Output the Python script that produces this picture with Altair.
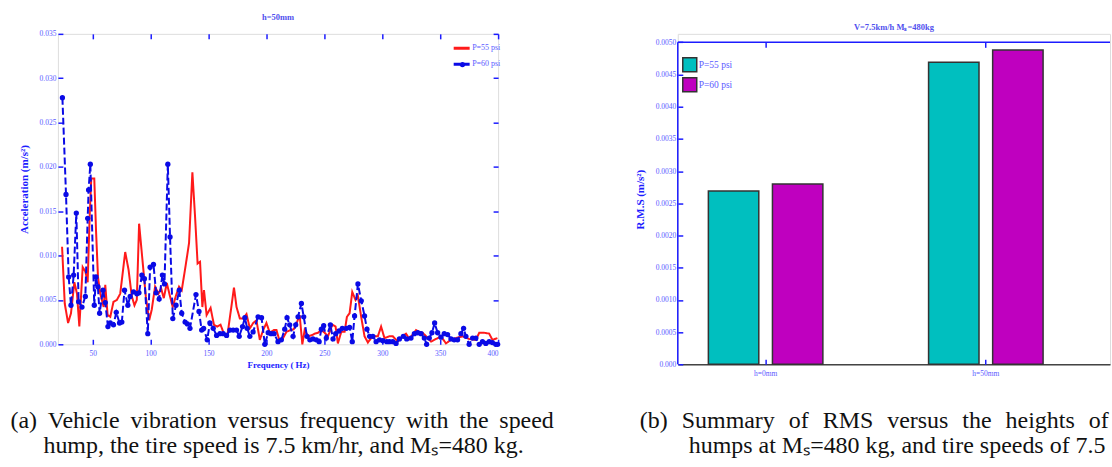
import altair as alt
import pandas as pd

# ---------------- data ----------------
series = ["P=55 psi", "P=60 psi"]

freq_55 = [23.6, 25.9, 28.8, 31.3, 34.2, 36.5, 38.5, 41.4, 43.7, 45.7, 47.4, 48.8, 51.4, 52.9, 54.6,
           56.6, 59.5, 60.9, 62.9, 65.2, 68.0, 70.9, 73.8, 78.1, 81.0, 83.8, 86.1, 88.1, 90.1, 93.0,
           95.9, 98.8, 101.0, 103.9, 106.8, 109.1, 111.4, 114.0, 116.8, 119.1, 121.7, 124.6, 126.9,
           130.3, 133.2, 136.1, 138.4, 140.6, 142.7, 144.7, 146.1, 148.4, 151.8, 154.7, 157.6, 160.4,
           163.3, 166.2, 169.5, 172.0, 174.2, 177.1, 179.9, 182.8, 185.7, 188.6, 191.4, 194.3, 197.2,
           200.0, 202.9, 206.4, 208.7, 211.5, 214.4, 217.3, 220.7, 223.6, 226.4, 228.7, 231.0, 233.0,
           235.9, 238.8, 241.6, 244.5, 247.4, 250.3, 253.1, 256.9, 259.7, 261.7, 264.6, 267.5, 269.5,
           271.8, 274.1, 276.9, 278.9, 281.8, 284.7, 287.6, 290.4, 293.3, 296.2, 299.0, 301.9, 306.2,
           309.1, 313.4, 317.7, 320.5, 323.4, 326.3, 329.2, 332.0, 334.9, 337.8, 342.1, 346.4, 350.7,
           355.0, 359.3, 363.6, 369.3, 375.0, 380.8, 383.7, 388.0, 392.3, 395.1, 399.4]
acc_55 = [0.0110, 0.0046, 0.0024, 0.0035, 0.0070, 0.0057, 0.0020, 0.0087, 0.0082, 0.0070, 0.0144,
          0.0187, 0.0187, 0.0129, 0.0076, 0.0057, 0.0042, 0.0067, 0.0033, 0.0031, 0.0048, 0.0050,
          0.0057, 0.0104, 0.0084, 0.0054, 0.0044, 0.0050, 0.0136, 0.0095, 0.0054, 0.0027, 0.0039,
          0.0065, 0.0057, 0.0063, 0.0052, 0.0069, 0.0054, 0.0042, 0.0054, 0.0065, 0.0061, 0.0089,
          0.0114, 0.0194, 0.0144, 0.0091, 0.0093, 0.0042, 0.0061, 0.0033, 0.0041, 0.0022, 0.0020,
          0.0022, 0.0012, 0.0009, 0.0040, 0.0064, 0.0042, 0.0029, 0.0029, 0.0034, 0.0018, 0.0024,
          0.0027, 0.0005, 0.0016, 0.0024, 0.0013, 0.0016, 0.0016, 0.0003, 0.0007, 0.0014, 0.0016,
          0.0017, 0.0025, 0.0033, 0.0000, 0.0016, 0.0009, 0.0010, 0.0012, 0.0013, 0.0016, 0.0013,
          0.0009, 0.0022, 0.0020, 0.0001, 0.0014, 0.0014, 0.0031, 0.0035, 0.0059, 0.0050, 0.0055,
          0.0031, 0.0009, 0.0002, 0.0007, 0.0009, 0.0009, 0.0020, 0.0007, 0.0009, 0.0009, 0.0003,
          0.0009, 0.0012, 0.0006, 0.0011, 0.0016, 0.0014, 0.0013, 0.0009, 0.0003, 0.0006, 0.0009,
          0.0001, 0.0005, 0.0007, 0.0009, 0.0006, 0.0005, 0.0013, 0.0013, 0.0012, 0.0005, 0.0007]

freq_60 = [23.9, 27.0, 29.3, 31.3, 33.6, 35.9, 37.9, 40.8, 43.7, 45.7, 46.5, 48.0, 51.4, 52.9, 54.5,
           56.0, 58.9, 60.9, 63.2, 65.2, 68.0, 70.4, 73.2, 75.2, 77.5, 80.4, 82.4, 85.3, 88.2, 90.0,
           92.5, 94.7, 97.6, 99.6, 102.5, 104.8, 107.4, 110.2, 112.0, 114.9, 116.8, 119.2, 122.0,
           124.8, 126.9, 129.8, 131.8, 134.0, 139.2, 141.8, 144.1, 145.8, 148.9, 151.2, 154.1, 157.0,
           159.9, 162.7, 165.6, 168.5, 171.3, 174.2, 176.5, 179.4, 181.4, 183.4, 185.7, 188.5, 192.8,
           195.8, 198.6, 201.5, 204.0, 206.6, 210.0, 212.9, 215.8, 217.8, 220.1, 223.0, 225.3, 227.3,
           230.2, 232.2, 235.0, 237.5, 240.2, 243.1, 245.5, 247.4, 249.4, 251.7, 255.2, 257.5, 259.8,
           262.7, 265.5, 269.0, 271.8, 274.1, 276.1, 279.0, 281.9, 284.7, 286.8, 289.1, 291.9, 294.7,
           297.6, 300.5, 303.9, 306.2, 309.1, 311.9, 314.8, 318.2, 321.1, 324.8, 327.7, 330.6, 333.5,
           336.3, 338.3, 340.6, 342.9, 345.2, 347.8, 350.7, 353.5, 356.4, 359.3, 362.1, 365.0, 367.9,
           370.2, 372.2, 375.0, 378.0, 380.8, 383.7, 386.5, 389.4, 392.3, 395.1, 398.0, 399.6]
acc_60 = [0.0278, 0.0169, 0.0076, 0.0044, 0.0078, 0.0148, 0.0048, 0.0042, 0.0054, 0.0142, 0.0174,
          0.0203, 0.0044, 0.0076, 0.0065, 0.0035, 0.0061, 0.0047, 0.0020, 0.0024, 0.0022, 0.0036,
          0.0024, 0.0025, 0.0061, 0.0044, 0.0054, 0.0059, 0.0057, 0.0058, 0.0078, 0.0074, 0.0012,
          0.0087, 0.0090, 0.0058, 0.0051, 0.0078, 0.0068, 0.0203, 0.0121, 0.0029, 0.0044, 0.0061,
          0.0035, 0.0025, 0.0023, 0.0018, 0.0056, 0.0037, 0.0016, 0.0018, 0.0005, 0.0024, 0.0018,
          0.0010, 0.0012, 0.0012, 0.0010, 0.0016, 0.0016, 0.0016, 0.0009, 0.0020, 0.0030, 0.0018,
          0.0009, 0.0014, 0.0031, 0.0030, 0.0000, 0.0013, 0.0012, 0.0012, 0.0003, 0.0005, 0.0017,
          0.0030, 0.0022, 0.0009, 0.0022, 0.0031, 0.0046, 0.0031, 0.0009, 0.0005, 0.0006, 0.0005,
          0.0003, 0.0017, 0.0021, 0.0007, 0.0022, 0.0006, 0.0012, 0.0015, 0.0018, 0.0018, 0.0019,
          0.0003, 0.0032, 0.0068, 0.0049, 0.0032, 0.0017, 0.0009, 0.0009, 0.0003, 0.0005, 0.0004,
          0.0003, 0.0003, 0.0003, 0.0001, 0.0006, 0.0009, 0.0006, 0.0007, 0.0012, 0.0013, 0.0012,
          0.0007, 0.0000, 0.0007, 0.0013, 0.0024, 0.0013, 0.0008, 0.0012, 0.0011, 0.0006, 0.0005,
          0.0005, 0.0012, 0.0018, 0.0009, 0.0000, 0.0007, 0.0007, 0.0000, 0.0003, 0.0001, 0.0003,
          0.0002, 0.0000, 0.0000]

heights = ["h=0mm", "h=50mm"]
rms_55 = [0.00269, 0.00469]
rms_60 = [0.00280, 0.00488]

freq_ticks = [50, 100, 150, 200, 250, 300, 350, 400]
acc_ticks = [0.0, 0.005, 0.010, 0.015, 0.020, 0.025, 0.030, 0.035]
rms_ticks = [0.0, 0.0005, 0.0010, 0.0015, 0.0020, 0.0025, 0.0030, 0.0035, 0.0040, 0.0045, 0.0050]

caption_a = ["(a) Vehicle vibration versus frequency with the speed",
             "hump, the tire speed is 7.5 km/hr, and M\u209b=480 kg."]
caption_b = ["(b) Summary of RMS versus the heights of",
             "humps at M\u209b=480 kg, and tire speeds of 7.5"]

# ---------------- styles ----------------
BLUE = "#1c1cff"
LBL = "#5b5bff"
SERIF = "Liberation Serif"
RED = "#ff1a1a"
SER_BLUE = "#0a0ae6"
CYAN = "#00bfbf"
MAGENTA = "#bf00bf"
CAP = 24

W1, H1 = 441, 311
W2, H2 = 433, 331
RMS_TOP = 0.005 * H2 / (H2 - 8.5)


def justify(text, extra):
    # widen inter-word gaps the way the justified caption does
    return text.replace(" ", " " + extra)


df_a = pd.concat([
    pd.DataFrame({"f": freq_55, "a": acc_55, "series": series[0]}),
    pd.DataFrame({"f": freq_60, "a": acc_60, "series": series[1]}),
], ignore_index=True)
df_pts = pd.DataFrame({"f": freq_60, "a": acc_60, "series": series[1]})

xs = alt.Scale(domain=[20, 400], nice=False, zero=False)
ys = alt.Scale(domain=[0, 0.035], nice=False)

leg_a = dict(orient="none", legendX=395, legendY=5, title=None, labelFont=SERIF,
             labelFontSize=8, labelColor=LBL, symbolType="stroke", symbolStrokeWidth=3,
             symbolSize=256, rowPadding=0, labelOffset=1)

lines = alt.Chart(df_a).mark_line(strokeWidth=2).encode(
    x=alt.X("f:Q", scale=xs, axis=alt.Axis(
        orient="bottom", values=freq_ticks, format="d", domain=False, ticks=False, tickSize=0,
        grid=False, labelFont=SERIF, labelFontSize=7.5, labelColor=LBL, labelPadding=5,
        title="Frequency ( Hz)", titleFont=SERIF, titleFontSize=9, titleFontWeight="bold",
        titleColor=BLUE, titlePadding=4)),
    y=alt.Y("a:Q", scale=ys, axis=alt.Axis(
        orient="left", values=acc_ticks, format=".3f", domain=False, ticks=False, tickSize=0,
        grid=False, labelFont=SERIF, labelFontSize=7.5, labelColor=LBL, labelPadding=2,
        title="Acceleration (m/s\u00b2)", titleFont=SERIF, titleFontSize=11, titleFontWeight="bold",
        titleColor=BLUE, titlePadding=10)),
    color=alt.Color("series:N", scale=alt.Scale(domain=series, range=[RED, SER_BLUE]),
                    legend=alt.Legend(**leg_a)),
    strokeDash=alt.StrokeDash("series:N", scale=alt.Scale(domain=series, range=[[1, 0], [7, 3]]),
                              legend=alt.Legend(**leg_a)),
)

pts = alt.Chart(df_pts).mark_point(size=28, opacity=1, filled=True, color=SER_BLUE).encode(
    x=alt.X("f:Q", scale=xs, axis=alt.Axis(orient="bottom", values=freq_ticks, offset=-5,
                                           tickSize=5, labels=False, domain=False, grid=False,
                                           title=None, tickColor=BLUE, tickWidth=1.5)),
    y=alt.Y("a:Q", scale=ys, axis=alt.Axis(orient="left", values=acc_ticks, offset=-5,
                                           tickSize=5, labels=False, domain=False, grid=False,
                                           title=None, tickColor=BLUE, tickWidth=1.5)),
    shape=alt.Shape("series:N", scale=alt.Scale(domain=[series[1]], range=["circle"]),
                    legend=alt.Legend(orient="none", legendX=402.3, legendY=27.8, title=None,
                                      labelExpr="''", labelFontSize=1, symbolSize=28,
                                      symbolFillColor=SER_BLUE, symbolStrokeColor=SER_BLUE,
                                      symbolStrokeWidth=0)),
)

mirror = alt.Chart(df_pts).mark_point(opacity=0).encode(
    x=alt.X("f:Q", scale=xs, axis=alt.Axis(orient="top", values=freq_ticks, offset=-5,
                                           tickSize=5, labels=False, domain=False, grid=False,
                                           title=None, tickColor=BLUE, tickWidth=1.5)),
    y=alt.Y("a:Q", scale=ys, axis=alt.Axis(orient="right", values=acc_ticks, offset=-5,
                                           tickSize=5, labels=False, domain=False, grid=False,
                                           title=None, tickColor=BLUE, tickWidth=1.5)),
)

cap_a1 = alt.Chart(pd.DataFrame({"t": [justify(caption_a[0], "\u2009")]})).mark_text(
    font=SERIF, fontSize=CAP, color="#111", align="left", baseline="alphabetic").encode(
    text="t:N", x=alt.value(-47.5), y=alt.value(394.5))
cap_a2 = alt.Chart(pd.DataFrame({"t": [caption_a[1]]})).mark_text(
    font=SERIF, fontSize=CAP, color="#111", align="left", baseline="alphabetic").encode(
    text="t:N", x=alt.value(-14.5), y=alt.value(419.5))

left = alt.layer(lines, pts, mirror, cap_a1, cap_a2).resolve_axis(
    x="independent", y="independent").properties(
    width=W1, height=H1,
    title=alt.TitleParams("h=50mm", font=SERIF, fontSize=8.5, fontWeight="bold", color="#5050ee",
                          offset=8, anchor="middle"))

# ---------------- right panel ----------------
df_b = pd.DataFrame({
    "height": heights * 2,
    "series": [series[0]] * 2 + [series[1]] * 2,
    "rms": rms_55 + rms_60,
})

xb = alt.Scale(domain=heights, paddingInner=0.48, paddingOuter=0.2214, align=0.3137)
yb = alt.Scale(domain=[0, RMS_TOP], nice=False)

bars = alt.Chart(df_b).mark_bar(stroke="#333333", strokeWidth=1.5).encode(
    x=alt.X("height:N", scale=xb, sort=heights, axis=alt.Axis(
        orient="bottom", domain=True, domainColor="#444444", domainWidth=1.5, ticks=False,
        tickSize=0, labelAngle=0, labelFont=SERIF, labelFontSize=7.5, labelColor=LBL,
        labelPadding=5, title=None, grid=False)),
    xOffset=alt.XOffset("series:N", scale=alt.Scale(domain=series, paddingInner=0.213,
                                                     paddingOuter=0)),
    y=alt.Y("rms:Q", scale=yb, axis=alt.Axis(
        orient="left", values=rms_ticks, domain=False, ticks=False, tickSize=0, grid=False,
        labelExpr="datum.value == 0 ? '0.000' : format(datum.value, '.4f')",
        labelFont=SERIF, labelFontSize=7.5, labelColor=LBL, labelPadding=2,
        title="R.M.S (m/s\u00b2)", titleFont=SERIF, titleFontSize=11, titleFontWeight="bold",
        titleColor=BLUE, titlePadding=10)),
    color=alt.Color("series:N", scale=alt.Scale(domain=series, range=[CYAN, MAGENTA]),
                    legend=alt.Legend(orient="none", legendX=4, legendY=23, title=None,
                                      labelFont=SERIF, labelFontSize=9.5, labelColor=LBL,
                                      symbolType="square", symbolSize=196,
                                      symbolStrokeColor="#333333", symbolStrokeWidth=1.5,
                                      rowPadding=0, labelOffset=1)),
)

bticks = alt.Chart(df_b).mark_point(opacity=0).encode(
    x=alt.X("height:N", scale=xb, sort=heights, axis=alt.Axis(
        orient="bottom", offset=-5, tickSize=5, labels=False, domain=False, grid=False,
        title=None, tickColor=BLUE, tickWidth=1.5)),
    y=alt.Y("rms:Q", scale=yb, axis=alt.Axis(
        orient="left", values=rms_ticks, offset=-5, tickSize=5, labels=False, domain=False,
        grid=False, title=None, tickColor=BLUE, tickWidth=1.5)),
)

tticks = alt.Chart(df_b).mark_point(opacity=0).encode(
    x=alt.X("height:N", scale=xb, sort=heights, axis=alt.Axis(
        orient="top", offset=-13.5, tickSize=5, labels=False, domain=False, grid=False,
        title=None, tickColor=BLUE, tickWidth=1.5)),
    y=alt.Y("rms:Q", scale=yb, axis=None),
)

frame = pd.DataFrame({"lo": [0.0], "hi": [0.005]})
top_rule = alt.Chart(frame).mark_rule(color=BLUE, strokeWidth=1.5).encode(
    y=alt.Y("hi:Q", scale=yb, axis=None))
left_rule = alt.Chart(frame).mark_rule(color=BLUE, strokeWidth=1.5).encode(
    x=alt.value(0), y=alt.Y("lo:Q", scale=yb, axis=None), y2="hi:Q")

cap_b1 = alt.Chart(pd.DataFrame({"t": [justify(caption_b[0], "\u2005\u200a")]})).mark_text(
    font=SERIF, fontSize=CAP, color="#111", align="left", baseline="alphabetic",
    limit=472, ellipsis="\u200b").encode(text="t:N", x=alt.value(-38), y=alt.value(394.5))
cap_b2 = alt.Chart(pd.DataFrame({"t": [caption_b[1]]})).mark_text(
    font=SERIF, fontSize=CAP, color="#111", align="left", baseline="alphabetic",
    limit=422, ellipsis="\u200b").encode(text="t:N", x=alt.value(11), y=alt.value(419.5))

right = alt.layer(bars, bticks, tticks, top_rule, left_rule, cap_b1, cap_b2).resolve_axis(
    x="independent", y="independent").properties(
    width=W2, height=H2,
    title=alt.TitleParams("V=7.5km/h  M\u209b=480kg", font=SERIF, fontSize=8.5, fontWeight="bold",
                          color="#5050ee", offset=2, anchor="middle"))

chart = alt.hconcat(left, right, spacing=180, bounds="flush").resolve_scale(
    color="independent", strokeDash="independent", shape="independent").properties(
    padding={"left": 10, "top": 12.5, "right": 0, "bottom": 0}
).configure_view(stroke=None).configure(background="white")

chart.save("out.html", embed_options={"renderer": "svg", "actions": False})
